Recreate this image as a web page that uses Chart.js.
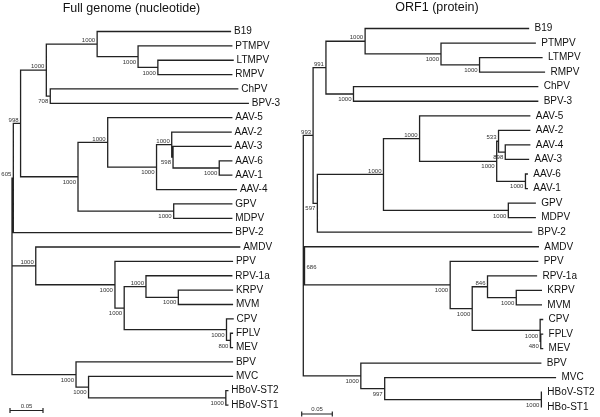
<!DOCTYPE html>
<html>
<head>
<meta charset="utf-8">
<script src="https://cdn.jsdelivr.net/npm/chart.js@4.4.1/dist/chart.umd.min.js"></script>
<style>
    html, body { margin: 0; padding: 0; background: #fff; }
    #wrap { position: relative; width: 600px; height: 417px; }
    canvas { position: absolute; top: 0; }
    #ntChart { left: 0; }
    #aaChart { left: 300px; }
</style>
</head>
<body>
<div id="wrap">
    <canvas id="ntChart" width="300" height="417"></canvas>
    <canvas id="aaChart" width="300" height="417"></canvas>
</div>
<script>
// Two parvovirus trees, drawn as line segments on linear scales.
// Tips are listed top to bottom; internal nodes always come after their parent.

// Full genome (nucleotide)
const ntTaxa = ['B19', 'PTMPV', 'LTMPV', 'RMPV', 'ChPV', 'BPV-3', 'AAV-5', 'AAV-2', 'AAV-3', 'AAV-6',
    'AAV-1', 'AAV-4', 'GPV', 'MDPV', 'BPV-2', 'AMDV', 'PPV', 'RPV-1a', 'KRPV', 'MVM', 'CPV', 'FPLV',
    'MEV', 'BPV', 'MVC', 'HBoV-ST2', 'HBoV-ST1'];
const ntTipParent = [4, 5, 6, 6, 7, 7, 9, 11, 12, 13, 13, 10, 14, 14, 1, 15, 16, 18, 19, 19, 20, 21, 21, 22, 23, 24, 24];
const ntTipLength = [0.202, 0.142, 0.114, 0.112, 0.284, 0.300, 0.188, 0.090, 0.088, 0.019, 0.019, 0.121,
    0.088, 0.088, 0.331, 0.309, 0.178, 0.130, 0.082, 0.082, 0.010, 0.003, 0.003, 0.237, 0.218, 0.003, 0.003];
const ntNodeParent = [-1, 0, 1, 2, 3, 4, 5, 3, 2, 8, 9, 10, 11, 12, 8, 0, 15, 16, 17, 18, 17, 20, 0, 22, 23];
const ntNodeLength = [0, 0.002, 0.011, 0.039, 0.077, 0.062, 0.030, 0.006, 0.087, 0.045, 0.074, 0.023, 0.002,
    0.070, 0.145, 0.036, 0.120, 0.014, 0.033, 0.049, 0.155, 0.006, 0.097, 0.019, 0.208];
const ntSupport = [null, 605, 998, 1000, 1000, 1000, 1000, 708, 1000, 1000, 1000, 1000, 598, 1000, 1000,
    1000, 1000, 1000, 1000, 1000, 1000, 800, 1000, 1000, 1000];

// ORF1 (protein)
const aaTaxa = ['B19', 'PTMPV', 'LTMPV', 'RMPV', 'ChPV', 'BPV-3', 'AAV-5', 'AAV-2', 'AAV-4', 'AAV-3',
    'AAV-6', 'AAV-1', 'GPV', 'MDPV', 'BPV-2', 'AMDV', 'PPV', 'RPV-1a', 'KRPV', 'MVM', 'CPV', 'FPLV',
    'MEV', 'BPV', 'MVC', 'HBoV-ST2', 'HBo-ST1'];
const aaTipParent = [3, 4, 5, 5, 6, 6, 9, 11, 12, 12, 13, 13, 14, 14, 7, 15, 16, 18, 19, 19, 20, 21, 21, 22, 23, 24, 24];
const aaTipLength = [0.267, 0.154, 0.102, 0.106, 0.301, 0.301, 0.180, 0.051, 0.040, 0.038, 0.003, 0.003,
    0.044, 0.044, 0.350, 0.382, 0.143, 0.080, 0.041, 0.041, 0.004, 0.003, 0.003, 0.294, 0.279, 0, 0];
const aaNodeParent = [-1, 0, 1, 2, 3, 4, 2, 1, 7, 8, 9, 10, 11, 10, 8, 0, 15, 16, 17, 18, 17, 20, 0, 22, 23];
const aaNodeLength = [0, 0.016, 0.021, 0.064, 0.124, 0.063, 0.045, 0.007, 0.108, 0.059, 0.126, 0.003, 0.011,
    0.047, 0.204, 0.002, 0.238, 0.036, 0.025, 0.047, 0.111, 0.001, 0.094, 0.039, 0.256];
const aaSupport = [null, 993, 991, 1000, 1000, 1000, 1000, 597, 1000, 1000, 1000, 533, 898, 1000, 1000,
    686, 1000, 1000, 846, 1000, 1000, 480, 1000, 997, 1000];

const scaleBarValue = 0.05;
const FONT = '"Liberation Sans", Arial, Helvetica, sans-serif';

// Depth (x) and row (y) of every tip and node, plus the segments to draw
function buildTree(tipParent, tipLength, nodeParent, nodeLength) {
    const n = nodeParent.length;
    const nodeX = new Array(n).fill(0);
    for (let i = 1; i < n; i++) {
        nodeX[i] = nodeX[nodeParent[i]] + nodeLength[i];
    }
    const tipX = tipParent.map(function(p, i) { return nodeX[p] + tipLength[i]; });

    // children of each node, with their row
    const kids = [];
    for (let i = 0; i < n; i++) kids.push([]);
    tipParent.forEach(function(p, i) { kids[p].push({ x: tipX[i], y: i, node: -1 }); });

    const nodeY = new Array(n).fill(0);
    const lo = new Array(n).fill(0);
    const hi = new Array(n).fill(0);
    for (let i = n - 1; i >= 0; i--) {
        const ys = kids[i].map(function(k) { return k.y; });
        lo[i] = Math.min.apply(null, ys);
        hi[i] = Math.max.apply(null, ys);
        nodeY[i] = (lo[i] + hi[i]) / 2;
        if (i > 0) kids[nodeParent[i]].push({ x: nodeX[i], y: nodeY[i], node: i });
    }

    const isLast = nodeY.map(function(y, i) { return i > 0 && y === hi[nodeParent[i]]; });

    const segs = [];
    for (let i = 0; i < n; i++) {
        segs.push({ x: nodeX[i], y: lo[i] }, { x: nodeX[i], y: hi[i] }, { x: null, y: null });
        kids[i].forEach(function(k) {
            segs.push({ x: nodeX[i], y: k.y }, { x: k.x, y: k.y }, { x: null, y: null });
        });
    }
    return { tipX: tipX, nodeX: nodeX, nodeY: nodeY, isLast: isLast, segs: segs };
}

function treeTextPlugin(tree, taxa, support, look) {
    return {
        id: 'treeText',
        afterDatasetsDraw: function(chart) {
            const ctx = chart.ctx;
            const xs = chart.scales.x;
            const ys = chart.scales.y;
            const area = chart.chartArea;
            ctx.save();

            // titre
            ctx.fillStyle = '#111';
            ctx.font = '12.5px ' + FONT;
            ctx.textAlign = 'center';
            ctx.textBaseline = 'middle';
            ctx.fillText(look.title, look.titleX, look.titleY);

            // noms des virus
            ctx.font = '10px ' + FONT;
            ctx.textAlign = 'left';
            taxa.forEach(function(name, i) {
                ctx.fillText(name, xs.getPixelForValue(tree.tipX[i]) + look.tipGap, ys.getPixelForValue(i));
            });

            // bootstrap
            ctx.font = '6px ' + FONT;
            ctx.fillStyle = '#333';
            support.forEach(function(val, i) {
                if (val === null) return;
                const txt = String(val);
                const px = xs.getPixelForValue(tree.nodeX[i]);
                const py = ys.getPixelForValue(tree.nodeY[i]);
                const w = ctx.measureText(txt).width;
                if (px - 2 - w < area.left + 1) {
                    ctx.textAlign = 'left';
                    ctx.fillText(txt, px + 2, py + 1);
                } else {
                    ctx.textAlign = 'right';
                    ctx.fillText(txt, px - 2, py + (tree.isLast[i] ? 5.5 : -3.5));
                }
            });

            // barre d'échelle
            const x0 = area.left + look.barX;
            const len = xs.getPixelForValue(scaleBarValue) - xs.getPixelForValue(0);
            const y0 = look.barY;
            ctx.strokeStyle = '#222';
            ctx.lineWidth = 1.2;
            ctx.beginPath();
            ctx.moveTo(x0, y0); ctx.lineTo(x0 + len, y0);
            ctx.moveTo(x0, y0 - 2.5); ctx.lineTo(x0, y0 + 2.5);
            ctx.moveTo(x0 + len, y0 - 2.5); ctx.lineTo(x0 + len, y0 + 2.5);
            ctx.stroke();
            ctx.textAlign = 'center';
            ctx.fillText(String(scaleBarValue), x0 + len / 2, y0 - 4.5);

            ctx.restore();
        }
    };
}

function drawTree(canvasId, tree, taxa, support, look) {
    new Chart(document.getElementById(canvasId), {
        type: 'scatter',
        data: {
            datasets: [{
                data: tree.segs,
                showLine: true,
                spanGaps: false,
                borderColor: '#222',
                borderWidth: 1.3,
                borderCapStyle: 'square',
                pointRadius: 0,
                pointHoverRadius: 0
            }]
        },
        options: {
            responsive: false,
            animation: false,
            devicePixelRatio: 1,
            events: [],
            layout: { padding: 0 },
            plugins: {
                legend: { display: false },
                tooltip: { enabled: false },
                title: { display: false }
            },
            scales: {
                x: { type: 'linear', min: look.xMin, max: look.xMax, display: false },
                y: { type: 'linear', min: look.yMin, max: look.yMax, reverse: true, display: false }
            }
        },
        plugins: [treeTextPlugin(tree, taxa, support, look)]
    });
}

const ntTree = buildTree(ntTipParent, ntTipLength, ntNodeParent, ntNodeLength);
const aaTree = buildTree(aaTipParent, aaTipLength, aaNodeParent, aaNodeLength);

drawTree('ntChart', ntTree, ntTaxa, ntSupport, {
    title: 'Full genome (nucleotide)', titleX: 131.5, titleY: 9,
    xMin: -0.01818, xMax: 0.43636, yMin: -2.192, yMax: 26.83,
    tipGap: 3.5, barX: 10, barY: 410.5
});
drawTree('aaChart', aaTree, aaTaxa, aaSupport, {
    title: 'ORF1 (protein)', titleX: 137, titleY: 8,
    xMin: -0.00539, xMax: 0.48480, yMin: -1.959, yMax: 26.70,
    tipGap: 6, barX: 1.7, barY: 414
});
</script>
</body>
</html>
